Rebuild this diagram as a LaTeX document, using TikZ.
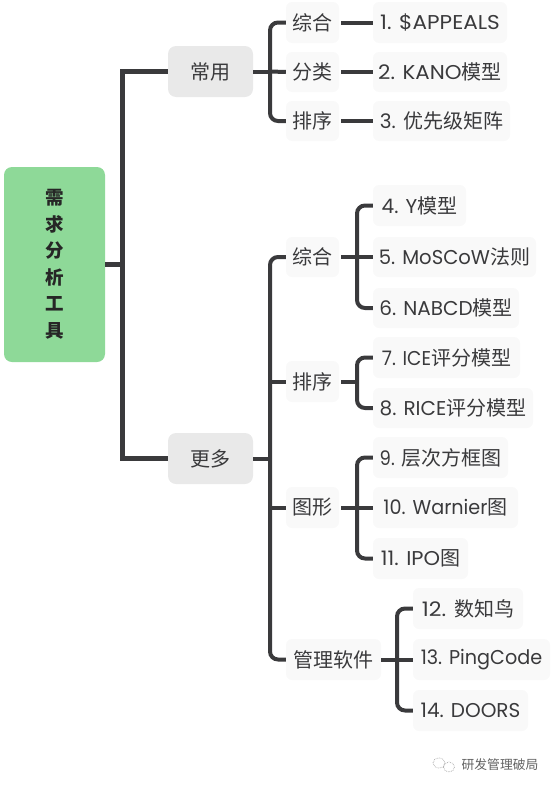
\documentclass[tikz,border=0pt]{standalone}
\usepackage{graphicx}
\usepackage{fontspec}
\setmainfont{Poppins}
\newfontfamily\cjk{Noto Sans CJK SC}
\definecolor{ink}{HTML}{3A3A3C}
\definecolor{leaf}{HTML}{F9F9F9}
\definecolor{mid}{HTML}{E9E9E9}
\definecolor{rootg}{HTML}{8ED998}
\tikzset{
  tbox/.style={rounded corners=6pt,fill=leaf,text=ink,inner sep=0pt,font=\fontsize{20}{22}\selectfont},
  rootbox/.style={rounded corners=8pt,fill=rootg,text=black!85,inner sep=0pt,align=center,font=\cjk\bfseries\fontsize{18.5}{26.5}\selectfont},
  midbox/.style={tbox,fill=mid,rounded corners=8pt},
  link/.style={draw=ink,line width=4pt},
  bracket/.style={link,rounded corners=8pt},
  trunk/.style={draw=ink,line width=5pt}
}
% horizontal fit of the Latin part of a label
\newcommand{\hs}[2]{\scalebox{#1}[1]{#2}}
% box from corners: x0,y0,x1,y1
\newcommand{\bx}[7]{\node[#1,minimum width=#4pt-#2pt,minimum height=#5pt-#3pt,anchor=center] (#6) at ({(#2+#4)/2},{(#3+#5)/2}) {#7};}
\begin{document}
\begin{tikzpicture}[x=1pt,y=-1pt]
\useasboundingbox (0,0) rectangle (556,790);
\bx{rootbox}{4}{167}{105}{362}{root}{\rule{0pt}{2pt}需\\求\\分\\析\\工\\具}
\bx{midbox}{168}{46}{253}{97}{chang}{\cjk 常用}
\bx{midbox}{168}{433}{253}{484}{geng}{\cjk 更多}

\bx{tbox}{286}{2}{339}{43}{a1}{\cjk 综合}
\bx{tbox}{286}{52}{339}{92}{a2}{\cjk 分类}
\bx{tbox}{286}{101}{339}{141}{a3}{\cjk 排序}
\bx{tbox}{373}{2}{507}{43}{n1}{\hs{1.08}{1. \$APPEALS}}
\bx{tbox}{373}{52}{507}{92}{n2}{\hs{1.07}{2. KANO}{\cjk 模型}}
\bx{tbox}{373}{101}{510}{141}{n3}{3. {\cjk 优先级矩阵}}

\bx{tbox}{286}{237}{339}{277}{b1}{\cjk 综合}
\bx{tbox}{286}{361}{339}{402}{b2}{\cjk 排序}
\bx{tbox}{286}{487}{339}{528}{b3}{\cjk 图形}
\bx{tbox}{286}{639}{381}{680}{b4}{\cjk 管理软件}
\bx{tbox}{373}{185}{466}{226}{n4}{4. Y{\cjk 模型}}
\bx{tbox}{373}{237}{536}{277}{n5}{\hs{.98}{5. MoSCoW}{\cjk 法则}}
\bx{tbox}{373}{288}{519}{328}{n6}{6. NABCD{\cjk 模型}}
\bx{tbox}{373}{337}{520}{378}{n7}{\hs{.93}{7. ICE}{\cjk 评分模型}}
\bx{tbox}{373}{388}{533}{428}{n8}{8. RICE{\cjk 评分模型}}
\bx{tbox}{373}{437}{508}{478}{n9}{\hs{.9}{9. }{\cjk 层次方框图}}
\bx{tbox}{373}{487}{518}{528}{n10}{\hs{.96}{10. Warnier}{\cjk 图}}
\bx{tbox}{373}{538}{468}{579}{n11}{\hs{1.05}{11. IPO}{\cjk 图}}
\bx{tbox}{413}{588}{523}{629}{n12}{\hs{1.1}{12. }{\cjk 数知鸟}}
\bx{tbox}{413}{639}{550}{680}{n13}{\hs{.96}{13. PingCode}}
\bx{tbox}{413}{690}{528}{731}{n14}{14. DOORS}

% junctions
\coordinate (j0) at (122,264.5);
\coordinate (j1) at (270,71.5);
\coordinate (j2) at (270,458.5);
\coordinate (j3) at (357,257);
\coordinate (j4) at (357,381.5);
\coordinate (j5) at (357,507.5);
\coordinate (j6) at (397,659.5);
\coordinate (s2) at (270,381.5);
\coordinate (s3) at (270,507.5);

\draw[trunk] (root.east) -- (j0);
\draw[trunk] (chang.west) -| (j0) |- (geng.west);

\draw[link] (chang.east) -- (j1);
\draw[bracket] (a1.west) -| (j1) |- (a3.west);
\draw[link] (j1) -- (a2.west);
\draw[link] (a1.east) ++(2,0) -- (n1.west);
\draw[link] (a2.east) ++(2,0) -- (n2.west);
\draw[link] (a3.east) ++(2,0) -- (n3.west);

\draw[link] (geng.east) -- (j2);
\draw[bracket] (b1.west) -| (j2) |- (b4.west);
\draw[link] (s2) -- (b2.west);
\draw[link] (s3) -- (b3.west);

\draw[link] (b1.east) ++(2,0) -- (j3);
\draw[bracket] (n4.west) -| (j3) |- (n6.west);
\draw[link] (j3) -- (n5.west);

\draw[link] (b2.east) ++(2,0) -- (j4);
\draw[bracket] (n7.west) -| (j4) |- (n8.west);

\draw[link] (b3.east) ++(2,0) -- (j5);
\draw[bracket] (n9.west) -| (j5) |- (n11.west);
\draw[link] (j5) -- (n10.west);

\draw[link] (b4.east) -- (j6);
\draw[bracket] (n12.west) -| (j6) |- (n14.west);
\draw[link] (j6) -- (n13.west);

% watermark
\draw[gray!70,densely dotted,line width=.7pt] (439,763) ellipse (6 and 5);
\draw[gray!70,densely dotted,line width=.7pt] (449,767) ellipse (5.5 and 5);
\node[text=black!62,inner sep=0pt,font=\cjk\fontsize{12.8}{14}\selectfont] (wm) at (500,765) {研发管理破局};
\end{tikzpicture}
\end{document}
